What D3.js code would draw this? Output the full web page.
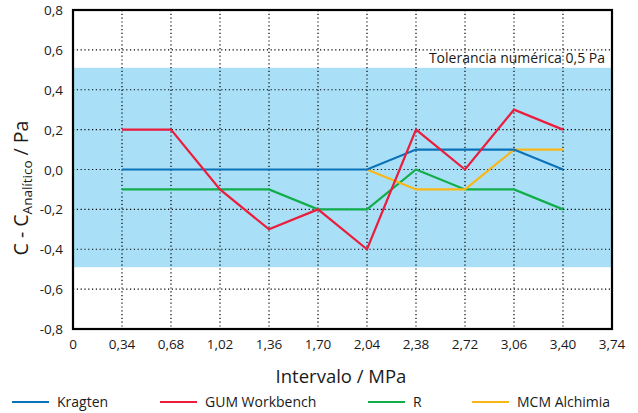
<!DOCTYPE html>
<html>
<head>
<meta charset="utf-8">
<script src="https://cdn.jsdelivr.net/npm/d3@7"></script>
<style>
  body { margin: 0; background: #fff; }
  text { font-family: "Open Sans", "Noto Sans", sans-serif; fill: #1a1a1a; }
</style>
</head>
<body>
<svg id="chart" width="638" height="413"></svg>
<script>
// data
const xTicks = [0, 0.34, 0.68, 1.02, 1.36, 1.70, 2.04, 2.38, 2.72, 3.06, 3.40, 3.74];
const yTicks = [-0.8, -0.6, -0.4, -0.2, 0, 0.2, 0.4, 0.6, 0.8];
const xs = [0.34, 0.68, 1.02, 1.36, 1.70, 2.04, 2.38, 2.72, 3.06, 3.40];
const kragten = [0, 0, 0, 0, 0, 0, 0.1, 0.1, 0.1, 0];
const gum = [0.2, 0.2, -0.1, -0.3, -0.2, -0.4, 0.2, 0, 0.3, 0.2];
const rVals = [-0.1, -0.1, -0.1, -0.1, -0.2, -0.2, 0, -0.1, -0.1, -0.2];
const mcm = [null, null, null, null, null, 0, -0.1, -0.1, 0.1, 0.1];
const band = [-0.49, 0.51];
const seriesNames = ["Kragten", "GUM Workbench", "R", "MCM Alchimia"];
const seriesColors = ["#0b72b9", "#ec1c3c", "#12ad4b", "#fbb616"];

const svg = d3.select("#chart");
const pL = 73, pR = 612, pT = 10, pB = 329;

const x = d3.scaleLinear().domain([0, 3.74]).range([pL, pR]);
const y = d3.scaleLinear().domain([-0.8, 0.8]).range([pB, pT]);

// tolerance band
svg.append("rect")
  .attr("x", pL).attr("width", pR - pL)
  .attr("y", y(band[1])).attr("height", y(band[0]) - y(band[1]))
  .attr("fill", "#a9e0f7");

// grid
svg.append("g").selectAll("line")
  .data(xTicks.slice(1, -1))
  .enter().append("line")
  .attr("x1", d => x(d)).attr("x2", d => x(d))
  .attr("y1", pT).attr("y2", pB)
  .attr("stroke", "#000").attr("stroke-width", 1.2)
  .attr("stroke-dasharray", "1.2,2.6");
svg.append("g").selectAll("line")
  .data(yTicks.slice(1, -1))
  .enter().append("line")
  .attr("y1", d => y(d)).attr("y2", d => y(d))
  .attr("x1", pL).attr("x2", pR)
  .attr("stroke", "#000").attr("stroke-width", 1.2)
  .attr("stroke-dasharray", "1.2,2.6");

// lines
const allSeries = [kragten, gum, rVals, mcm];
const line = d3.line()
  .defined(d => d[1] !== null)
  .x(d => x(d[0])).y(d => y(d[1]));
// red on top like the picture
[2, 3, 0, 1].forEach(i => {
  svg.append("path")
    .datum(xs.map((v, j) => [v, allSeries[i][j]]))
    .attr("d", line)
    .attr("fill", "none")
    .attr("stroke", seriesColors[i])
    .attr("stroke-width", 2.2)
    .attr("stroke-linejoin", "miter");
});

// frame
svg.append("rect")
  .attr("x", pL).attr("y", pT)
  .attr("width", pR - pL).attr("height", pB - pT)
  .attr("fill", "none").attr("stroke", "#000").attr("stroke-width", 2.2);

// tick labels
svg.append("g").selectAll("text")
  .data(yTicks)
  .enter().append("text")
  .attr("x", 63).attr("y", d => y(d) + 5)
  .attr("text-anchor", "end")
  .attr("font-size", 13.5)
  .text(d => d.toFixed(1).replace(".", ","));

svg.append("g").selectAll("text")
  .data(xTicks)
  .enter().append("text")
  .attr("x", d => x(d)).attr("y", 349)
  .attr("text-anchor", "middle")
  .attr("font-size", 13.5)
  .text(d => d === 0 ? "0" : d.toFixed(2).replace(".", ","));

svg.append("text")
  .attr("x", 341).attr("y", 383)
  .attr("text-anchor", "middle")
  .attr("font-size", 18.5)
  .text("Intervalo / MPa");

const yt = svg.append("text")
  .attr("transform", "translate(28,188) rotate(-90)")
  .attr("text-anchor", "middle")
  .attr("font-size", 19.5);
yt.append("tspan").text("C - C");
yt.append("tspan").attr("font-size", 13.5).attr("dy", 4).text("Analítico");
yt.append("tspan").attr("dy", -4).text(" / Pa");

svg.append("text")
  .attr("x", 605).attr("y", 63)
  .attr("text-anchor", "end")
  .attr("font-size", 14)
  .text("Tolerancia numérica 0,5 Pa");

// legend
const legX = [12, 160, 368, 472];
const leg = svg.append("g").selectAll("g")
  .data(seriesNames)
  .enter().append("g")
  .attr("transform", (d, i) => "translate(" + legX[i] + ",402)");
leg.append("line")
  .attr("x1", 0).attr("x2", 37)
  .attr("stroke", (d, i) => seriesColors[i])
  .attr("stroke-width", 2.2);
leg.append("text")
  .attr("x", 45).attr("y", 5)
  .attr("font-size", 14)
  .text(d => d);
</script>
</body>
</html>
